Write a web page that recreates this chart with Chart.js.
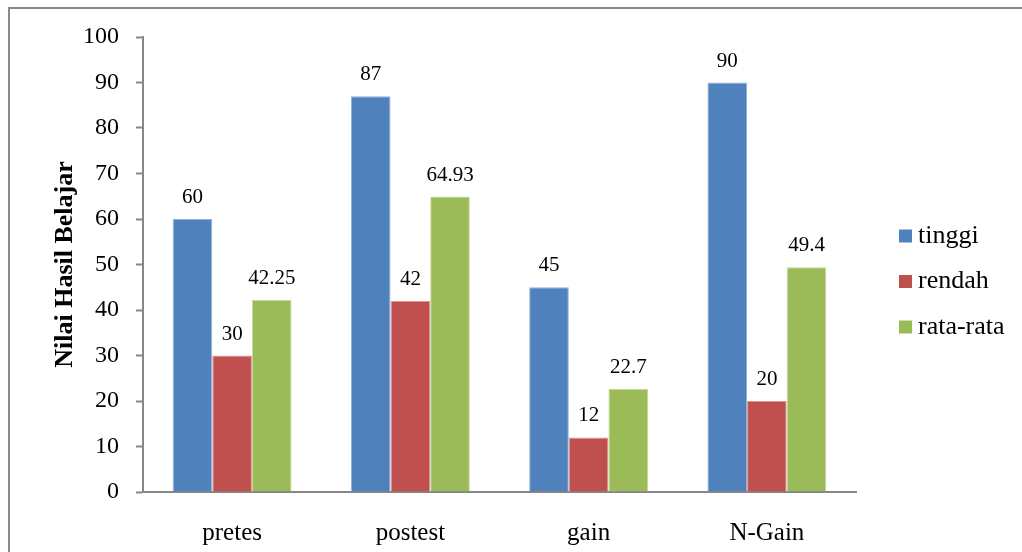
<!DOCTYPE html>
<html>
<head>
<meta charset="utf-8">
<script src="https://cdn.jsdelivr.net/npm/chart.js@4/dist/chart.umd.min.js"></script>
<style>
  html, body { margin: 0; padding: 0; background: #fff; }
  #wrap { width: 1022px; height: 552px; position: relative; }
</style>
</head>
<body>
<div id="wrap"><canvas id="chart" width="1022" height="552"></canvas></div>
<script>
// Learning-result scores per test stage
const categories = ['pretes', 'postest', 'gain', 'N-Gain'];
const seriesNames = ['tinggi', 'rendah', 'rata-rata'];
const tinggi = [60, 87, 45, 90];
const rendah = [30, 42, 12, 20];
const rataRata = [42.25, 64.93, 22.7, 49.4];
const yMin = 0, yMax = 100, yStep = 10;
const axisTitle = 'Nilai Hasil Belajar';

const seriesColors = ['#4F81BD', '#C0504D', '#9BBB59'];
const seriesEdges = ['#8FB2DC', '#DC9593', '#C4DA97'];
const serif = '"Liberation Serif", "Times New Roman", serif';

// Thin grey frame round the whole figure
const framePlugin = {
  id: 'frame',
  beforeDraw(chart) {
    const ctx = chart.ctx;
    ctx.save();
    ctx.fillStyle = '#ffffff';
    ctx.fillRect(0, 0, chart.width, chart.height);
    ctx.strokeStyle = '#8a8a8a';
    ctx.lineWidth = 2;
    ctx.strokeRect(9, 8, chart.width + 50, chart.height + 50);
    ctx.restore();
  }
};

// Value printed above every bar
const valueLabels = {
  id: 'valueLabels',
  afterDatasetsDraw(chart) {
    const ctx = chart.ctx;
    ctx.save();
    ctx.font = '21px ' + serif;
    ctx.fillStyle = '#000';
    ctx.textAlign = 'center';
    ctx.textBaseline = 'alphabetic';
    chart.data.datasets.forEach((ds, i) => {
      chart.getDatasetMeta(i).data.forEach((bar, j) => {
        ctx.fillText(String(ds.data[j]), bar.x, bar.y - 16);
      });
    });
    ctx.restore();
  }
};

// Legend at the right, built from the datasets
const sideLegend = {
  id: 'sideLegend',
  afterDraw(chart) {
    const ctx = chart.ctx;
    const area = chart.chartArea;
    const boxX = area.right + 43;
    const box = 13;
    const firstY = 236;
    const step = 45.5;
    ctx.save();
    ctx.font = '26px ' + serif;
    ctx.textAlign = 'left';
    ctx.textBaseline = 'middle';
    chart.data.datasets.forEach((ds, i) => {
      const cy = firstY + i * step;
      ctx.fillStyle = ds.backgroundColor;
      ctx.fillRect(boxX, cy - box / 2, box, box);
      ctx.fillStyle = '#000';
      ctx.fillText(ds.label, boxX + box + 6, cy);
    });
    ctx.restore();
  }
};

const seriesValues = [tinggi, rendah, rataRata];

new Chart(document.getElementById('chart'), {
  type: 'bar',
  data: {
    labels: categories,
    datasets: seriesNames.map((name, i) => ({
      label: name,
      data: seriesValues[i],
      backgroundColor: seriesColors[i],
      borderColor: seriesEdges[i],
      borderWidth: 1,
      categoryPercentage: 0.667,
      barPercentage: 1.0
    }))
  },
  options: {
    responsive: false,
    animation: false,
    devicePixelRatio: 1,
    layout: { padding: { left: 30, top: 37, right: 166, bottom: 0 } },
    plugins: {
      legend: { display: false },
      tooltip: { enabled: false }
    },
    scales: {
      x: {
        grid: { display: false },
        border: { display: true, color: '#868686', width: 2 },
        ticks: { color: '#000', font: { family: serif, size: 25 }, padding: 18 },
        afterFit(scale) { scale.height = 60; }
      },
      y: {
        min: yMin,
        max: yMax,
        ticks: {
          stepSize: yStep,
          color: '#000',
          font: { family: serif, size: 24 },
          padding: 17
        },
        grid: {
          drawOnChartArea: false,
          drawTicks: true,
          tickLength: 7,
          tickColor: '#868686',
          tickWidth: 2
        },
        border: { display: true, color: '#868686', width: 2 },
        title: {
          display: true,
          text: axisTitle,
          color: '#000',
          font: { family: serif, size: 26, weight: 'bold' },
          padding: { top: 20, bottom: 0 }
        },
        afterFit(scale) { scale.width = 113; }
      }
    }
  },
  plugins: [framePlugin, valueLabels, sideLegend]
});
</script>
</body>
</html>
